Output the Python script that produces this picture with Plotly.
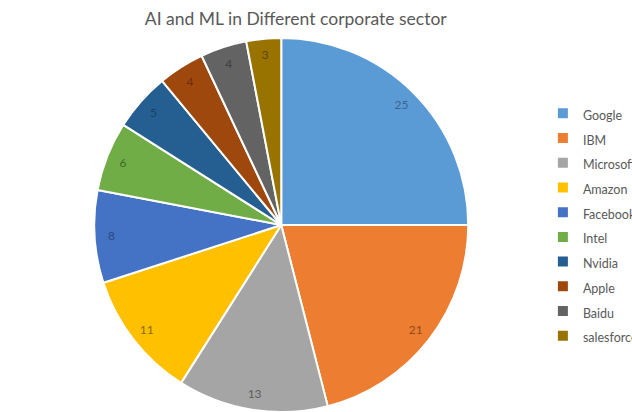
import plotly.graph_objects as go

companies = ["Google", "IBM", "Microsoft", "Amazon", "Facebook", "Intel",
             "Nvidia", "Apple", "Baidu", "salesforce"]
values = [25, 21, 13, 11, 8, 6, 5, 4, 4, 3]
colors = ["#5B9BD5", "#ED7D31", "#A5A5A5", "#FFC000", "#4472C4", "#70AD47",
          "#255E91", "#9E480E", "#636363", "#997300"]
label_colors = ["#3B6690", "#8E4B1E", "#5E5E5E", "#8C6A00", "#2B4A80", "#3F6A28",
                "#1A4266", "#6A300A", "#3F3F3F", "#5E4600"]

legend_labels = ['<span style="font-size:12.5px">%s</span>' % c for c in companies]
dom = dict(x=[0.145, 0.745], y=[0, 1])

# main pie (slices + legend)
fig = go.Figure(go.Pie(
    labels=legend_labels,
    values=values,
    sort=False,
    direction="clockwise",
    rotation=0,
    marker=dict(colors=colors, line=dict(color="white", width=2)),
    textinfo="none",
    domain=dom,
    showlegend=True,
    hoverinfo="label+value",
))

# transparent ring carrying the value labels near the outer edge
fig.add_trace(go.Pie(
    labels=companies,
    values=values,
    sort=False,
    direction="clockwise",
    rotation=0,
    hole=0.82,
    marker=dict(colors=["rgba(0,0,0,0)"] * len(values), line=dict(width=0)),
    textinfo="value",
    textposition="inside",
    insidetextorientation="horizontal",
    textfont=dict(family="Lato", size=12, color=label_colors),
    domain=dom,
    showlegend=False,
    hoverinfo="skip",
))

fig.update_layout(
    width=632, height=412,
    margin=dict(l=0, r=0, t=38, b=0, autoexpand=False),
    paper_bgcolor="white",
    title=dict(text="AI and ML in Different corporate sector",
               x=0.468, xanchor="center", y=0.955, yanchor="middle",
               font=dict(family="Lato", size=17.5, color="#595959")),
    legend=dict(x=0.859, xanchor="left", y=0.5, yanchor="middle",
                font=dict(family="Lato", size=16.7, color="#595959"),
                itemwidth=30, tracegroupgap=0, bgcolor="rgba(0,0,0,0)"),
    uniformtext=dict(minsize=11, mode="show"),
)

fig.write_html("out.html")
